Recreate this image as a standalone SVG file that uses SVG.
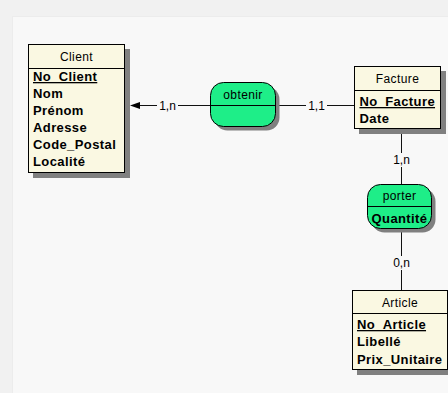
<svg xmlns="http://www.w3.org/2000/svg" width="448" height="393" viewBox="0 0 448 393">
<defs>
<style>
.shadow{fill:#808080}
.ent{fill:#FAF8E2;stroke:#000;stroke-width:1}
.rel{fill:#1EEE88;stroke:#000;stroke-width:1}
.div{stroke:#000;stroke-width:1}
.hdr{font-family:"Liberation Sans",Arial,sans-serif;font-size:12px;fill:#000;text-anchor:middle;letter-spacing:0.4px}
.att{font-family:"Liberation Sans",Arial,sans-serif;font-size:13px;font-weight:bold;fill:#000;letter-spacing:0.4px}
.key{text-decoration:underline}
.ln{stroke:#111;stroke-width:1;fill:none}
.lbl{font-family:"Liberation Sans",Arial,sans-serif;font-size:12px;fill:#000;text-anchor:middle}
.lblbg{fill:#f8f8f8}
</style>
</defs>
<rect x="0" y="0" width="448" height="393" fill="#f1f1f1"/>
<rect x="12" y="16" width="436" height="377" fill="#f8f8f8"/>
<line x1="12.5" y1="16" x2="12.5" y2="393" stroke="#ececec"/>
<line x1="12" y1="16.5" x2="448" y2="16.5" stroke="#ececec"/>

<g id="connectors">
  <line class="ln" x1="140" y1="105.5" x2="210.5" y2="105.5"/>
  <polygon points="130,105.5 140,102 140,109" fill="#000"/>
  <rect class="lblbg" x="157" y="99" width="21" height="13"/>
  <text class="lbl" x="167.5" y="110">1,n</text>

  <line class="ln" x1="276" y1="105.5" x2="354.5" y2="105.5"/>
  <rect class="lblbg" x="306" y="99" width="21" height="13"/>
  <text class="lbl" x="316.5" y="110">1,1</text>

  <line class="ln" x1="401.5" y1="129" x2="401.5" y2="184.5"/>
  <rect class="lblbg" x="391" y="153" width="21" height="14"/>
  <text class="lbl" x="401.5" y="164">1,n</text>

  <line class="ln" x1="401.5" y1="229" x2="401.5" y2="290.5"/>
  <rect class="lblbg" x="391" y="256" width="21" height="14"/>
  <text class="lbl" x="401.5" y="267">0,n</text>
</g>

<g id="client">
  <rect class="shadow" x="33" y="49" width="97" height="129"/>
  <rect class="ent" x="28.5" y="44.5" width="96" height="128"/>
  <line class="div" x1="28.5" y1="68.5" x2="124.5" y2="68.5"/>
  <text class="hdr" x="76.5" y="60.5">Client</text>
  <text class="att key" x="33" y="81">No_Client</text>
  <text class="att" x="33" y="98">Nom</text>
  <text class="att" x="33" y="115">Prénom</text>
  <text class="att" x="33" y="132">Adresse</text>
  <text class="att" x="33" y="149">Code_Postal</text>
  <text class="att" x="33" y="166">Localité</text>
</g>

<g id="obtenir">
  <rect class="shadow" x="214.5" y="86.5" width="65" height="44" rx="13"/>
  <rect class="rel" x="210.5" y="82.5" width="65" height="44" rx="13"/>
  <line class="div" x1="210.5" y1="105.5" x2="275.5" y2="105.5"/>
  <text class="hdr" x="243" y="99">obtenir</text>
</g>

<g id="facture">
  <rect class="shadow" x="359" y="71" width="87" height="63"/>
  <rect class="ent" x="354.5" y="66.5" width="86" height="62"/>
  <line class="div" x1="354.5" y1="90.5" x2="440.5" y2="90.5"/>
  <text class="hdr" x="397.5" y="82.5">Facture</text>
  <text class="att key" x="359.5" y="106">No_Facture</text>
  <text class="att" x="359.5" y="123">Date</text>
</g>

<g id="porter">
  <rect class="shadow" x="371.5" y="188.5" width="64" height="44" rx="13"/>
  <rect class="rel" x="367.5" y="184.5" width="64" height="44" rx="13"/>
  <line class="div" x1="367.5" y1="206.5" x2="431.5" y2="206.5"/>
  <text class="hdr" x="399.5" y="200">porter</text>
  <text class="att" x="399.5" y="222.5" text-anchor="middle" letter-spacing="0">Quantité</text>
</g>

<g id="article">
  <rect class="shadow" x="357" y="295" width="96" height="80"/>
  <rect class="ent" x="352.5" y="290.5" width="95" height="79"/>
  <line class="div" x1="352.5" y1="313.5" x2="447.5" y2="313.5"/>
  <text class="hdr" x="400" y="307">Article</text>
  <text class="att key" x="357" y="329">No_Article</text>
  <text class="att" x="357" y="346">Libellé</text>
  <text class="att" x="357" y="363.5">Prix_Unitaire</text>
</g>
</svg>
